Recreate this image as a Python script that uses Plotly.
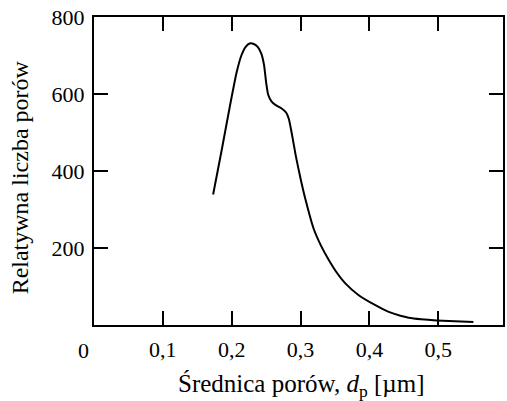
import plotly.graph_objects as go

# Pore diameter [µm] and relative pore count
dp = [0.173, 0.185, 0.197, 0.207, 0.214, 0.220, 0.226, 0.232, 0.238, 0.243,
      0.247, 0.250, 0.253, 0.258, 0.264, 0.272, 0.279, 0.283, 0.287, 0.293,
      0.300, 0.308, 0.319, 0.330, 0.341, 0.353, 0.365, 0.384, 0.408, 0.428,
      0.445, 0.457, 0.475, 0.4975, 0.551]
count = [339, 450, 565, 655, 700, 722, 731, 730, 722, 705,
         675, 630, 598, 580, 571, 563, 552, 535, 500, 440,
         380, 320, 250, 205, 169, 135, 108, 78, 52, 34,
         24, 19, 15, 12, 8]

x_tickvals = [0.1, 0.2, 0.3, 0.4, 0.5]
x_ticktext = ["0,1", "0,2", "0,3", "0,4", "0,5"]
y_tickvals = [200, 400, 600, 800]
y_ticktext = ["200", "400", "600", "800"]

FONT = "Liberation Serif, Times New Roman, serif"
TICK_SIZE = 22
TITLE_SIZE = 24

fig = go.Figure()
fig.add_trace(go.Scatter(
    x=dp, y=count, mode="lines",
    line=dict(color="black", width=2, shape="spline", smoothing=0.5),
    showlegend=False, hoverinfo="skip",
))

axis_common = dict(
    showgrid=False, zeroline=False, showline=True, linecolor="black",
    linewidth=2, mirror="ticks", ticks="inside", ticklen=14, tickwidth=2,
    tickcolor="black", tickfont=dict(family=FONT, size=TICK_SIZE, color="black"),
)

fig.update_layout(
    width=507, height=401,
    margin=dict(l=94, r=2, t=17, b=76),
    paper_bgcolor="white", plot_bgcolor="white",
    font=dict(family=FONT, size=TICK_SIZE, color="black"),
    xaxis=dict(range=[0, 0.594], tickvals=x_tickvals, ticktext=x_ticktext,
               ticklabelstandoff=4, **axis_common),
    yaxis=dict(range=[0, 800], tickvals=y_tickvals, ticktext=y_ticktext,
               ticklabelstandoff=3, **axis_common),
    annotations=[
        dict(text="0", x=83, y=350, xref="paper", yref="paper",
             showarrow=False, font=dict(family=FONT, size=TICK_SIZE)),
        dict(text="Średnica porów, <i>d</i><sub>p</sub> [µm]",
             x=303, y=385, xref="paper", yref="paper",
             showarrow=False, font=dict(family=FONT, size=TITLE_SIZE + 1)),
        dict(text="Relatywna liczba porów", textangle=-90,
             x=20, y=177, xref="paper", yref="paper",
             showarrow=False, font=dict(family=FONT, size=TITLE_SIZE)),
    ],
)

# convert pixel-based annotation coords to paper coords
pw = 507 - 94 - 2
ph = 401 - 17 - 76
for a in fig.layout.annotations:
    px, py = a.x, a.y
    a.x = (px - 94) / pw
    a.y = (401 - 76 - py) / ph
    a.xanchor = "center"
    a.yanchor = "middle"

fig.write_html("out.html")
